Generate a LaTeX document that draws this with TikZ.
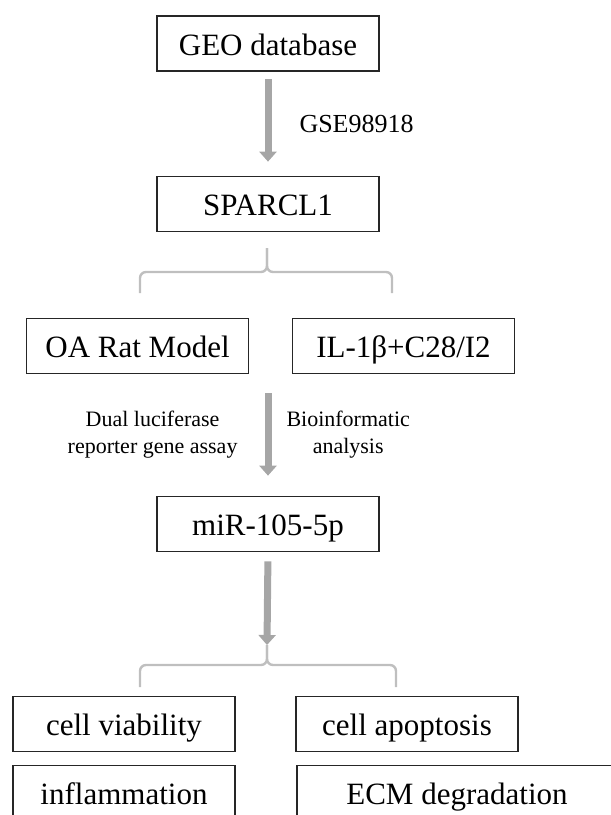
\documentclass[tikz,border=0pt]{standalone}
\usepackage{fontspec}
\setmainfont{Liberation Serif}
\usetikzlibrary{arrows.meta}

\begin{document}
\begin{tikzpicture}[x=0.5pt, y=-0.5pt,
        box/.style={draw=black!85, line width=0.85pt, inner sep=0pt, minimum width=111pt, minimum height=27.5pt, text height=13pt, text depth=1.5pt, font=\fontsize{15.5}{18}\selectfont},
        flow/.style={draw=black!35, line width=3.5pt, -{Triangle[width=8.5pt,length=5pt]}},
        fork/.style={draw=black!25, line width=1.2pt, rounded corners=3pt},
        note/.style={font=\fontsize{11}{13.5}\selectfont, align=center, inner sep=0pt}]
        \useasboundingbox (0,0) rectangle (611,815);

        \node[box] (geo) at (268,43.5) {GEO database};
        \node[box] (sparc) at (268,204) {SPARCL1};
        \node[box] (oa) at (137.5,346) {OA Rat Model};
        \node[box] (il) at (403.5,346) {IL-1β+C28/I2};
        \node[box] (mir) at (268,524) {miR-105-5p};
        \node[box] (viab) at (124,724) {cell viability};
        \node[box] (apop) at (407,724) {cell apoptosis};
        \node[box] (infl) at (124,793) {inflammation};
        \node[box, minimum width=160pt] (ecm) at (457,793) {ECM degradation};

        % database to gene
        \draw[flow, shorten <=3.5pt, shorten >=7pt] (geo.south) -- node[right=14pt, inner sep=0pt, font=\fontsize{13}{15}\selectfont] {GSE98918} (sparc.north);

        % first split
        \coordinate (tip1) at (267,248);
        \draw[fork] (140,293) |- (267,272) -- (tip1);
        \draw[fork] (392,293) |- (267,272) -- (tip1);

        % models to miRNA
        \coordinate (split) at (268,373);
        \draw[flow, shorten <=10pt, shorten >=10pt] (split) -- node[note, left=13.5pt] {Dual luciferase\\reporter gene assay} node[note, right=7.5pt] {Bioinformatic\\analysis} (mir.north);

        % second split
        \coordinate (tip2) at (267,645);
        \draw[fork] (140,687) |- (267,665) -- (tip2);
        \draw[fork] (396,687) |- (267,665) -- (tip2);
        \draw[flow, shorten <=4.5pt] (mir.south) -- (tip2);
    \end{tikzpicture}
\end{document}
